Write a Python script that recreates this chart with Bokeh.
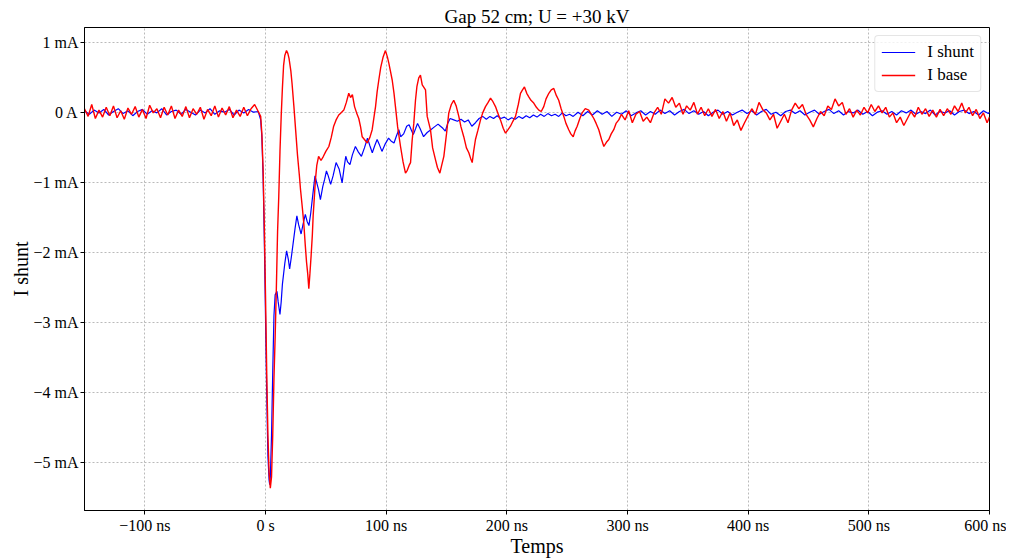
from bokeh.plotting import figure
from bokeh.models import Range1d, FixedTicker, Legend, LegendItem
from bokeh.embed import file_html
from bokeh.resources import INLINE

# ---- data (time in ns, current in mA) ----
t_shunt = [-150, -146, -142, -138, -134, -130, -126, -122, -118, -114, -110, -106, -102, -98, -94, -90, -86, -82, -78, -74,
           -70, -66, -62, -58, -54, -50, -46, -42, -38, -34, -30, -26, -22, -18, -14, -10, -6,
           -4, -3, -2, -1, 0, 1, 2, 3, 3.5, 4, 5, 6, 7, 8, 9.5, 10.5, 12, 13, 14, 15, 16, 17.5, 19, 20, 21.5, 23, 24.5, 26,
           27.5, 29.5, 31, 33, 34.5, 36, 37.5, 39, 41, 42.5, 44, 45.5, 47.5, 49, 50.5, 52, 54, 56, 58.5, 61, 63.5, 65, 66.5,
           68, 70, 72, 74.5, 77, 79.5, 82, 84.5, 86.5, 88.5, 90.5, 92.5, 94.5, 96.5, 99, 102, 104, 106.5, 108.5, 110.5, 112,
           114.5, 117, 119, 121, 122.5, 124.5, 126, 128, 131, 134, 137, 140, 143, 145, 147, 149, 151, 153, 156, 159, 162, 165,
           168, 171, 174, 177, 180, 183, 186, 189, 192, 195, 198, 201, 204, 207, 210, 213, 216, 219, 222, 225, 228, 231, 234,
           237, 240, 243, 246, 249, 252, 255,
           259, 263, 267, 271, 275, 279, 283, 287, 291, 295, 299, 303, 307, 311, 315, 319, 323, 327, 331, 335, 339, 343, 347,
           351, 355, 359, 363, 367, 371, 375, 379, 383, 387, 391, 395, 399, 403, 407, 411, 415, 419, 423, 427, 431, 435, 439,
           443, 447, 451, 455, 459, 463, 467, 471, 475, 479, 483, 487, 491, 495, 499, 503, 507, 511, 515, 519, 523, 527, 531,
           535, 539, 543, 547, 551, 555, 559, 563, 567, 571, 575, 579, 583, 587, 591, 595, 599, 600]
i_shunt = [0.03, -0.02, 0.04, 0.0, 0.05, -0.03, 0.02, 0.06, -0.01, 0.03, -0.04, 0.02, 0.05, -0.02, 0.03, 0.0, 0.06, -0.03, 0.02, 0.04,
           -0.02, 0.05, 0.01, -0.03, 0.04, 0.0, 0.06, -0.02, 0.03, 0.01, 0.05, -0.03, 0.04, 0.0, 0.05, 0.01, 0.02,
           -0.1, -0.35, -0.9, -1.8, -2.9, -4.0, -4.9, -5.25, -5.31, -5.2, -4.6, -3.7, -2.9, -2.6, -2.55, -2.7, -2.88, -2.7, -2.45, -2.3, -2.15, -1.97, -2.1, -2.23, -2.05, -1.85, -1.65, -1.47,
           -1.6, -1.73, -1.6, -1.45, -1.55, -1.61, -1.43, -1.2, -0.9, -1.0, -1.1, -1.24, -1.05, -0.95, -0.83, -0.9, -1.02, -0.9, -0.71, -0.8, -1.0, -0.8, -0.62,
           -0.7, -0.74, -0.6, -0.48, -0.56, -0.62, -0.5, -0.36, -0.47, -0.57, -0.47, -0.38, -0.46, -0.55, -0.45, -0.36, -0.4, -0.43, -0.33, -0.24, -0.34,
           -0.3, -0.19, -0.17, -0.25, -0.31, -0.22, -0.15, -0.22, -0.34, -0.28, -0.24, -0.2, -0.16, -0.19, -0.22, -0.26, -0.15, -0.08, -0.1, -0.12, -0.09, -0.13,
           -0.1, -0.19, -0.14, -0.08, -0.05, -0.09, -0.05, -0.08, -0.04, -0.08, -0.06, -0.1, -0.07, -0.09, -0.05, -0.08, -0.04, -0.07, -0.03, -0.06, -0.02, -0.05, -0.01,
           -0.04, -0.02, -0.05, 0.0, -0.04, -0.02, -0.05,
           0.01, -0.04, 0.02, -0.03, 0.03, -0.02, 0.02, -0.05, 0.01, -0.02, 0.03, -0.04, 0.0, 0.03, -0.03, 0.02, -0.02, 0.04, -0.01, 0.03, -0.03, 0.02, 0.05,
           -0.01, 0.03, -0.02, 0.02, -0.04, 0.01, 0.04, -0.02, 0.02, -0.03, 0.01, 0.04, -0.01, 0.03, -0.03, 0.02, 0.05, -0.02, 0.01, -0.04, 0.02, 0.04, -0.01,
           0.03, -0.03, 0.01, 0.04, -0.02, 0.02, 0.05, -0.01, 0.03, -0.03, 0.02, 0.0, 0.04, -0.02, 0.02, -0.04, 0.01, 0.03, -0.02, 0.02, -0.03, 0.03, 0.0,
           0.04, -0.02, 0.02, -0.01, 0.04, -0.03, 0.02, 0.0, 0.03, -0.03, 0.02, 0.04, -0.01, 0.02, -0.03, 0.03, -0.01, 0.01]

t_base = [-150, -147, -144, -141, -138, -135, -132, -129, -126, -123, -120, -117, -114, -111, -108, -105, -102, -99, -96, -93,
          -90, -87, -84, -81, -78, -75, -72, -69, -66, -63, -60, -57, -54, -51, -48, -45, -42, -39, -36, -33, -30, -27, -24,
          -21, -18, -15, -12, -9, -6,
          -4, -3, -2, -1, 0, 1, 2, 3, 4, 5, 6, 7, 8, 9, 10, 11, 12, 13, 14, 15, 16, 17.4, 18.5, 19.5, 21, 22, 23.5, 25, 26.5,
          28, 29, 30.5, 31.7, 33, 34, 35, 35.9, 36.8, 37.8, 38.8, 39.5, 40.5, 41.4, 42.5, 44, 46, 48, 50, 52.5, 54.5, 56.5,
          58.5, 60.7, 62.5, 64.9, 67, 69, 70.5, 72, 73.8, 75.5, 77.3, 78.8, 80.1, 82, 84.3, 86.5, 88.4, 90, 91.2, 92.5, 93.9,
          95.5, 97.5, 99.4, 101, 102.2, 103.5, 105, 106.5, 107.7, 109.5, 111.9, 114, 116, 117.5, 119, 120.2, 121.5, 122.9,
          124.3, 125.5, 127, 128.4, 129.9, 132.6, 134, 136.7, 138.5, 140.9, 142.5, 144.5, 146, 147.8, 150, 151.9, 154, 156,
          158, 160.2, 162, 164.3, 166.5, 168.5, 170, 171.3, 172.5, 174, 176, 178.2, 180, 182.3, 184.5, 186.5, 188.5, 190.6,
          192.5, 194.7, 197, 198.9, 201, 203, 205, 207.2, 209.5, 211.3, 213, 214.6, 216.5, 218.2, 220, 222.3, 224.5, 226.5,
          228.5, 230.6, 232.5, 234.8, 236.8, 238.9, 241, 243, 245, 247.2, 249, 251.3, 253, 255, 256.5, 258.3, 260.5, 262.4,
          265, 267.9, 270, 272.1, 274, 276.2, 278.5, 280.4, 282.5, 284.5, 286.5, 288.6, 290.5, 292.8,
          295, 298, 301, 304, 307, 310, 313, 316, 319, 322, 325, 328, 331, 334, 337, 340, 343, 346, 349, 352, 355, 358, 361,
          364, 367, 370, 373, 376, 379, 382, 385, 388, 391, 394, 397, 400, 403, 406, 409, 412, 415, 418, 421, 424, 427, 430,
          433, 436, 439, 442, 445, 448, 451, 454, 457, 460, 463, 466, 469, 472, 475, 478, 481, 484, 487, 490, 493, 496, 499,
          502, 505, 508, 511, 514, 517, 520, 523, 526, 529, 532, 535, 538, 541, 544, 547, 550, 553, 556, 559, 562, 565, 568,
          571, 574, 577, 580, 583, 586, 589, 592, 595, 598, 600]
i_base = [0.06, -0.05, 0.12, -0.08, 0.04, -0.06, 0.08, -0.04, 0.1, -0.07, 0.03, -0.09, 0.07, -0.02, 0.09, -0.06, 0.05, -0.08, 0.11, 0.0,
          0.06, -0.07, 0.08, -0.03, 0.1, -0.08, 0.04, -0.05, 0.09, -0.07, 0.06, -0.02, 0.08, -0.09, 0.05, -0.04, 0.1, -0.06, 0.07, -0.03, 0.09, -0.07, 0.04,
          -0.05, 0.08, -0.04, 0.06, 0.12, 0.02,
          -0.05, -0.3, -0.8, -1.6, -2.6, -3.7, -4.6, -5.15, -5.36, -5.2, -4.6, -3.8, -3.2, -2.5, -1.7, -1.19, -0.55, -0.05, 0.35, 0.68, 0.82, 0.89, 0.85, 0.78, 0.6, 0.42, 0.1, -0.25, -0.6,
          -0.88, -1.09, -1.35, -1.57, -1.9, -2.13, -2.3, -2.51, -2.3, -2.04, -1.75, -1.47, -1.2, -0.95, -0.75, -0.62, -0.68, -0.62, -0.55, -0.48, -0.35, -0.19,
          -0.1, -0.03, 0.0, 0.04, 0.15, 0.28, 0.22, 0.26, 0.09, 0.0, -0.08, -0.2, -0.34, -0.38, -0.43, -0.35, -0.24, -0.05, 0.09, 0.3, 0.47,
          0.65, 0.8, 0.89, 0.8, 0.71, 0.6, 0.47, 0.28, 0.09, -0.2, -0.48, -0.7, -0.86, -0.82, -0.75, -0.71, -0.4, -0.15,
          0.18, 0.38, 0.5, 0.54, 0.4, 0.33, -0.05, -0.24, -0.5, -0.67, -0.78, -0.86, -0.75, -0.62, -0.3, 0.0, 0.12, 0.18,
          0.1, -0.05, -0.2, -0.34, -0.5, -0.57, -0.65, -0.71, -0.55, -0.38, -0.25, -0.1, 0.0, 0.09, 0.15, 0.21, 0.16, 0.09,
          0.0, -0.1, -0.22, -0.29, -0.24, -0.19, -0.12, -0.05, 0.12, 0.28, 0.33, 0.37, 0.28, 0.23, 0.18, 0.14, 0.08, 0.04,
          0.02, 0.09, 0.2, 0.28, 0.33, 0.35, 0.25, 0.18, 0.06, -0.05, -0.15, -0.24, -0.3, -0.34, -0.26, -0.19, -0.08, 0.0,
          0.06, 0.04, -0.02, -0.08, -0.15, -0.24, -0.38, -0.48, -0.42, -0.38, -0.3, -0.24, -0.15, -0.1,
          -0.02, -0.1, 0.03, -0.14, -0.02, 0.02, -0.12, -0.06, -0.14, 0.0, 0.08, -0.02, 0.2, 0.14, 0.22, 0.08, 0.14, -0.02, 0.1, 0.04, 0.15, -0.02, 0.08,
          -0.04, 0.06, -0.05, 0.05, -0.08, 0.02, -0.12, 0.0, -0.18, -0.1, -0.25, -0.14, -0.04, 0.06, -0.02, 0.15, 0.05, 0.0, -0.1, -0.02, -0.22, -0.12, -0.02,
          -0.14, 0.04, 0.14, 0.06, 0.12, -0.02, -0.1, -0.2, -0.08, 0.02, -0.04, 0.1, 0.05, 0.2, 0.1, 0.15, -0.02, 0.06, -0.06, 0.04, -0.03, 0.08, 0.0,
          0.12, 0.02, 0.1, 0.0, 0.08, -0.06, 0.0, -0.14, -0.06, -0.18, -0.08, 0.02, -0.06, 0.08, -0.02, 0.06, -0.05, 0.04, -0.06, 0.05, -0.04, 0.06, -0.02,
          0.1, 0.02, 0.14, 0.0, 0.08, -0.04, 0.05, -0.08, 0.0, -0.14, -0.06]

x_ticks = [-100, 0, 100, 200, 300, 400, 500, 600]
x_labels = ["\u2212100 ns", "0 s", "100 ns", "200 ns", "300 ns", "400 ns", "500 ns", "600 ns"]
y_ticks = [1, 0, -1, -2, -3, -4, -5]
y_labels = ["1 mA", "0 A", "\u22121 mA", "\u22122 mA", "\u22123 mA", "\u22124 mA", "\u22125 mA"]

FONT = "Liberation Serif"
W, H = 1006, 559

p = figure(width=W, height=H, output_backend="svg", toolbar_location=None,
           x_range=Range1d(-150, 600), y_range=Range1d(-5.68, 1.22),
           title="Gap 52 cm; U = +30 kV",
           min_border_left=84, min_border_right=W - 989, min_border_top=27, min_border_bottom=H - 513)

p.title.align = "center"
p.title.text_font = FONT
p.title.text_font_size = "19px"
p.title.text_font_style = "normal"
p.title.text_color = "black"
p.title.standoff = 2

l1 = p.line(t_shunt, i_shunt, line_color="blue", line_width=1.2)
l2 = p.line(t_base, i_base, line_color="red", line_width=1.4)

for ax in (p.xaxis[0], p.yaxis[0]):
    ax.major_label_text_font = FONT
    ax.major_label_text_font_size = "16px"
    ax.major_label_text_color = "black"
    ax.axis_label_text_font = FONT
    ax.axis_label_text_font_size = "20px"
    ax.axis_label_text_font_style = "normal"
    ax.axis_label_text_color = "black"
    ax.major_tick_in = 0
    ax.major_tick_out = 4
    ax.minor_tick_in = 0
    ax.minor_tick_out = 0
    ax.axis_line_color = "black"
    ax.major_tick_line_color = "black"
    ax.major_label_standoff = 2
    ax.axis_label_standoff = -2

p.xaxis.ticker = FixedTicker(ticks=x_ticks)
p.xaxis.major_label_overrides = dict(zip(x_ticks, x_labels))
p.yaxis.ticker = FixedTicker(ticks=y_ticks)
p.yaxis.major_label_overrides = dict(zip(y_ticks, y_labels))
p.xaxis.axis_label = "Temps"
p.yaxis.axis_label = "I shunt"

p.xgrid.grid_line_color = "#a8a8a8"
p.ygrid.grid_line_color = "#a8a8a8"
p.xgrid.grid_line_dash = "2 2"
p.ygrid.grid_line_dash = "2 2"
p.xgrid.grid_line_width = 0.8
p.ygrid.grid_line_width = 0.8

p.outline_line_color = "black"
p.outline_line_width = 1
p.outline_line_alpha = 1

legend = Legend(items=[LegendItem(label="I shunt", renderers=[l1]),
                       LegendItem(label="I base", renderers=[l2])],
                location="top_right")
legend.label_text_font = FONT
legend.label_text_font_size = "17px"
legend.label_text_color = "black"
legend.border_line_color = "#cccccc"
legend.border_radius = 4
legend.background_fill_alpha = 0.8
legend.margin = 8
legend.padding = 6
legend.spacing = 3
legend.glyph_width = 34
legend.label_standoff = 12
p.add_layout(legend)

open("out.html", "w").write(file_html(p, INLINE))
